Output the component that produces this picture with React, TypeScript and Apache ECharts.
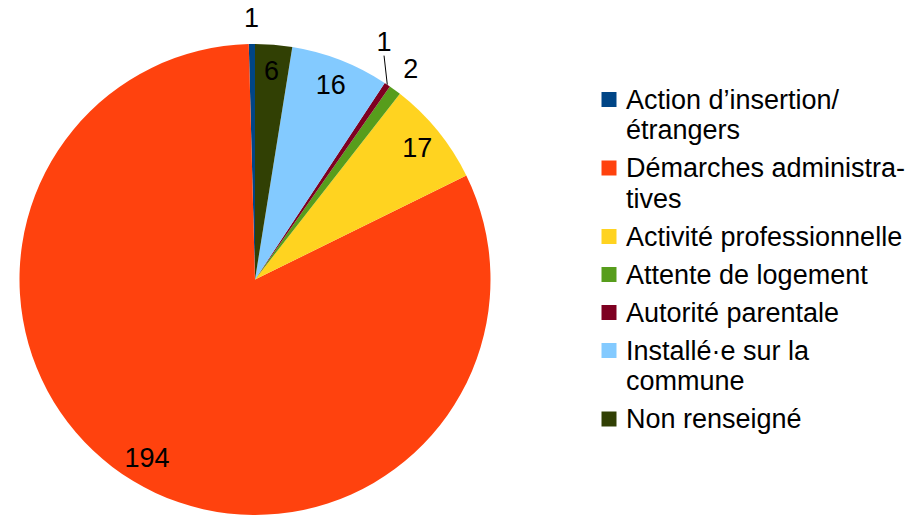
import React, { useEffect, useRef } from "react";
import * as echarts from "echarts";

// ---- data ----
const categories = [
  "Action d’insertion/étrangers",
  "Démarches administratives",
  "Activité professionnelle",
  "Attente de logement",
  "Autorité parentale",
  "Installé·e sur la commune",
  "Non renseigné",
];
const values = [1, 194, 17, 2, 1, 16, 6];
const legendLines = [
  ["Action d’insertion/", "étrangers"],
  ["Démarches administra-", "tives"],
  ["Activité professionnelle"],
  ["Attente de logement"],
  ["Autorité parentale"],
  ["Installé·e sur la", "commune"],
  ["Non renseigné"],
];
const colors = ["#004586", "#ff420e", "#ffd320", "#579d1c", "#7e0021", "#83caff", "#314004"];
// where each value label goes
const labelPlacement = ["outer", "inner", "inner", "outer", "leader", "inner", "inner"];

// ---- layout ----
const CX = 255;
const CY = 279.5;
const R = 235.5;
const FONT = "Liberation Sans";
const LEGEND_LEFT = 601.5;
const LEGEND_FIRST_CENTER = 99.5;
const LH = 30.5;
const GAP = 7.5;

export default function App() {
  const ref = useRef<HTMLDivElement>(null);

  useEffect(() => {
    document.body.style.margin = "0";
    if (!ref.current) return;
    const chart = echarts.init(ref.current, null, { renderer: "svg" });

    const transparent = "rgba(0,0,0,0)";
    const base = {
      type: "pie",
      center: [CX, CY],
      startAngle: 90,
      clockwise: false,
      avoidLabelOverlap: false,
      emphasis: { disabled: true },
      labelLine: { show: false },
    };
    const valueLabel = {
      fontSize: 27,
      fontFamily: FONT,
      color: "#000",
      formatter: "{c}",
    };

    const mainData = categories.map((name, i) => ({
      name,
      value: values[i],
      itemStyle: { color: colors[i], borderWidth: 0 },
      label: labelPlacement[i] === "leader" ? { show: true, position: "outside" } : { show: false },
      labelLine:
        labelPlacement[i] === "leader"
          ? { show: true, length: 20, length2: 0 }
          : { show: false },
    }));

    const ringData = (kind: string) =>
      categories.map((name, i) => ({
        name,
        value: values[i],
        itemStyle: { color: transparent, borderWidth: 0 },
        label: { show: labelPlacement[i] === kind, position: "inside" },
      }));

    let c = LEGEND_FIRST_CENTER;
    const legends = legendLines.map((lines, i) => {
      const n = lines.length * 2 - 1;
      const text = (lines.length > 1 ? "\n".repeat(lines.length - 1) : "") + lines.join("\n");
      const top = c - (n * LH) / 2;
      c += lines.length * LH + GAP;
      return {
        data: [categories[i]],
        orient: "vertical",
        left: LEGEND_LEFT,
        top,
        padding: 0,
        icon: "rect",
        itemWidth: 15,
        itemHeight: 15,
        itemStyle: { borderWidth: 0 },
        formatter: () => text,
        textStyle: {
          fontSize: 27,
          fontFamily: FONT,
          color: "#000",
          lineHeight: LH,
          padding: [0, 0, 0, 4.5],
        },
      };
    });

    chart.setOption({
      animation: false,
      backgroundColor: "#fff",
      textStyle: { fontFamily: FONT },
      legend: legends,
      series: [
        {
          ...base,
          name: "main",
          radius: [0, R],
          label: valueLabel,
          labelLine: { lineStyle: { color: "#000", width: 1 } },
          itemStyle: { borderWidth: 0 },
          data: mainData,
          labelLayout: (p: any) => {
            if (labelPlacement[p.dataIndex] !== "leader") return {};
            const r = p.labelRect;
            return {
              x: r.x + r.width / 2 - 27,
              y: r.y + r.height / 2 - 26,
              align: "center",
              verticalAlign: "middle",
            };
          },
        },
        {
          ...base,
          name: "inner",
          silent: true,
          radius: [176.5, R],
          label: valueLabel,
          data: ringData("inner"),
        },
        {
          ...base,
          name: "outer",
          silent: true,
          radius: [250, 268],
          label: valueLabel,
          data: ringData("outer"),
        },
      ],
    });

    return () => chart.dispose();
  }, []);

  return <div ref={ref} style={{ width: 918, height: 515 }} />;
}
